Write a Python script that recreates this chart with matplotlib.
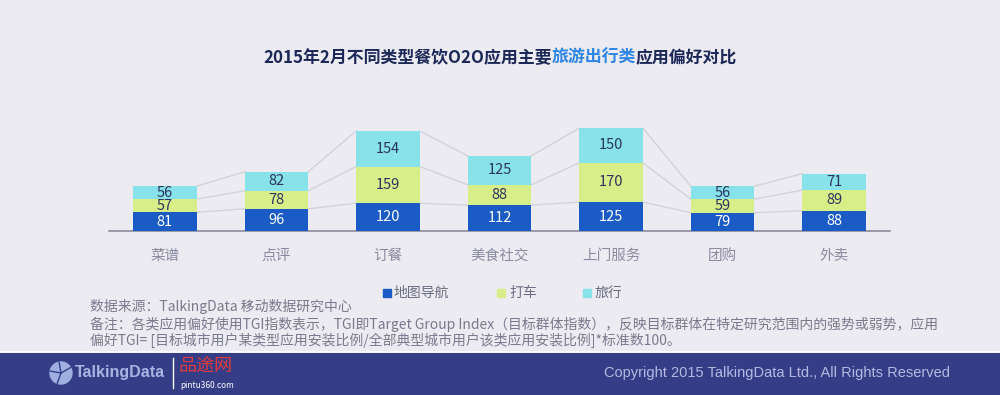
import numpy as np
import matplotlib.pyplot as plt
from matplotlib.patches import Rectangle, Ellipse
from matplotlib.lines import Line2D

plt.rcParams['font.family'] = ['Noto Sans CJK SC', 'DejaVu Sans']

categories = ['菜谱', '点评', '订餐', '美食社交', '上门服务', '团购', '外卖']
series_names = ['地图导航', '打车', '旅行']
ditu = [81, 96, 120, 112, 125, 79, 88]
dache = [57, 78, 159, 88, 170, 59, 89]
lvxing = [56, 82, 154, 125, 150, 56, 71]

colors = ['#1a5bc6', '#d8ee88', '#88e2e9']
label_colors = ['white', '#2b3560', '#2b3560']
bg = '#ecebf1'

fig = plt.figure(figsize=(10, 3.95), dpi=100, facecolor=bg)
ax = fig.add_axes([0.109, 0.4152, 0.781, 0.2808])
ax.set_facecolor(bg)

x = np.arange(len(categories))
w = 0.57
values = [ditu, dache, lvxing]
bottom = np.zeros(len(categories))
tops = []
for vals, c, lc in zip(values, colors, label_colors):
    vals = np.array(vals)
    ax.bar(x, vals, w, bottom=bottom, color=c, zorder=3)
    for xi, b, v in zip(x, bottom, vals):
        ax.text(xi, b + v / 2, str(v), ha='center', va='center',
                fontsize=10.5, color=lc, zorder=4)
    bottom = bottom + vals
    tops.append(bottom.copy())

# series lines between bars
for t in tops:
    for i in range(len(x) - 1):
        ax.plot([x[i] + w / 2, x[i + 1] - w / 2], [t[i], t[i + 1]],
                color='#d2d2da', lw=1, zorder=2)

ax.set_xlim(-0.5, len(categories) - 0.5)
ax.set_ylim(0, 480)
ax.set_xticks(x)
ax.set_xticklabels(categories, fontsize=10.5, color='#8a8aa0')
ax.tick_params(length=0, pad=13)
ax.set_yticks([])
for s in ['top', 'right', 'left']:
    ax.spines[s].set_visible(False)
ax.spines['bottom'].set_color('#8c8c9a')
ax.spines['bottom'].set_linewidth(1.2)

# title with coloured part
parts = [('2015年2月不同类型餐饮O2O应用主要', '#1c2858'),
         ('旅游出行类', '#2f86e6'),
         ('应用偏好对比', '#1c2858')]
r = fig.canvas.get_renderer()
txts = []
for s, c in parts:
    t = fig.text(0, 1 - 58 / 395, s, fontsize=12.2, fontweight='bold', color=c,
                 va='center', ha='left')
    txts.append(t)
widths = [t.get_window_extent(r).width for t in txts]
xpos = 500 - sum(widths) / 2
for t, wd in zip(txts, widths):
    t.set_x(xpos / 1000)
    xpos += wd

# legend
leg_y = 1 - 293 / 395
for (sq_x, tx), name, c in zip([(383, 394), (497, 509), (583, 595)], series_names, colors):
    fig.patches.append(Rectangle((sq_x / 1000, leg_y - 0.011), 0.008, 0.022,
                                 transform=fig.transFigure, color=c))
    fig.text(tx / 1000, leg_y, name, fontsize=10, color='#6c6c82', va='center')

# notes
note_color = '#7a7a8e'
fig.text(0.09, 1 - 307 / 395, '数据来源：TalkingData 移动数据研究中心',
         fontsize=10, color=note_color, va='center')
fig.text(0.09, 1 - 324 / 395,
         '备注：各类应用偏好使用TGI指数表示，TGI即Target Group Index（目标群体指数），'
         '反映目标群体在特定研究范围内的强势或弱势，应用',
         fontsize=10, color=note_color, va='center')
fig.text(0.09, 1 - 340 / 395,
         '偏好TGI= [目标城市用户某类型应用安装比例/全部典型城市用户该类应用安装比例]*标准数100。',
         fontsize=10, color=note_color, va='center')

# footer band
fig.patches.append(Rectangle((0, 0), 1, 42 / 395, transform=fig.transFigure,
                             color='#343d86'))
fig.lines.append(Line2D([0, 1], [43 / 395, 43 / 395], transform=fig.transFigure,
                        color='white', lw=1.2))
fy = 1 - 373 / 395
fig.patches.append(Ellipse((61 / 1000, fy), 22 / 1000, 22 / 395,
                           transform=fig.transFigure, color='#9fb0e0'))
for ang in [30, 100, 170, 250]:
    a = np.deg2rad(ang)
    fig.lines.append(Line2D([61 / 1000, (61 + 11 * np.cos(a)) / 1000],
                            [fy, fy + 11 * np.sin(a) / 395],
                            transform=fig.transFigure, color='#343d86', lw=1))
fig.text(0.075, fy, 'TalkingData', fontsize=11.5, fontweight='bold',
         color='#a8b4e2', va='center', family=['Liberation Sans', 'DejaVu Sans'])
fig.lines.append(Line2D([0.173, 0.173], [1 - 388 / 395, 1 - 358 / 395],
                        transform=fig.transFigure, color='white', lw=1))
fig.text(0.179, 1 - 367 / 395, '品途网', fontsize=13, color='#e23b3b', va='center',
         family=['Noto Sans CJK SC'])
fig.text(0.180, 1 - 385 / 395, 'pintu360.com', fontsize=6, color='white', va='center')
fig.text(0.95, fy, 'Copyright 2015 TalkingData Ltd., All Rights Reserved',
         fontsize=10.5, color='#b6bae2', va='center', ha='right',
         family=['Liberation Sans', 'DejaVu Sans'])

fig.savefig('out.png', dpi=100, facecolor=bg)
